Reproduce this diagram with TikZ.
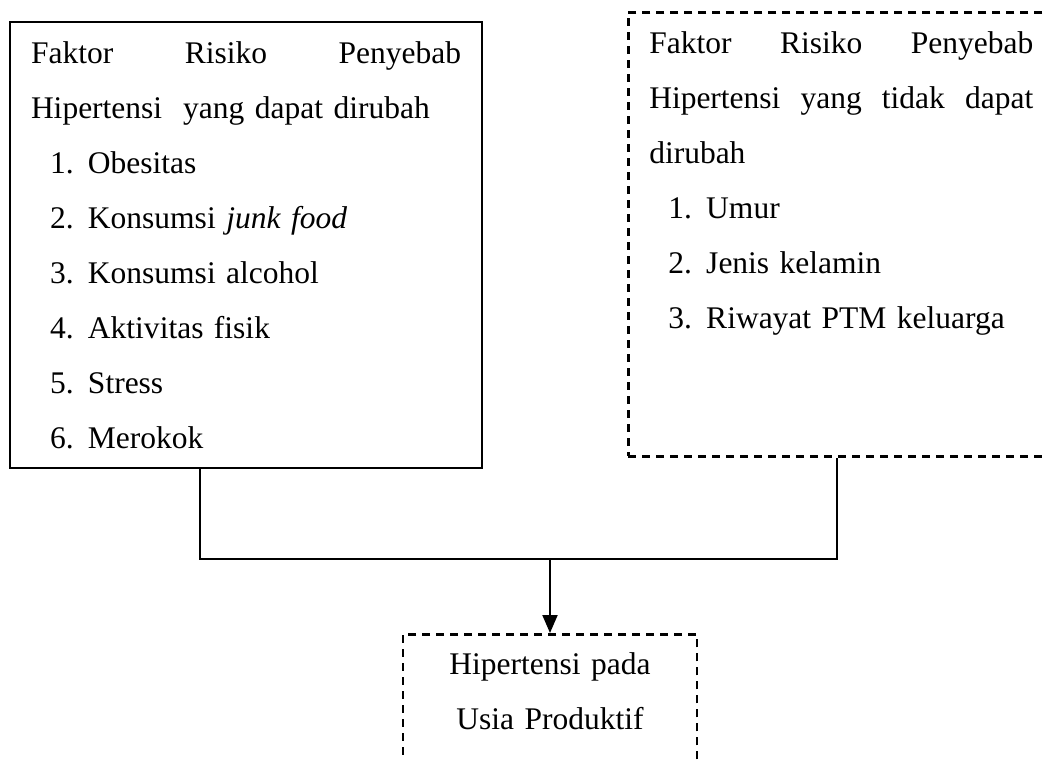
\documentclass[tikz,border=0pt]{standalone}
\usepackage{fontspec}
\setmainfont{Liberation Serif}
\usetikzlibrary{arrows.meta}

\newcommand{\butir}[2]{\hspace*{7.6pt}\makebox[15.2pt][l]{#1.}#2}
\newcommand{\rata}[2]{\leavevmode\hbox to #1{#2}}

\begin{document}
\begin{tikzpicture}[x=0.4pt,y=-0.4pt,
every node/.style={font=\fontsize{12.6}{22}\selectfont, inner ysep=0pt},
solidbox/.style={draw, line width=0.8pt, inner xsep=8.4pt, align=left, anchor=north west},
dashedbox/.style={draw, line width=1pt, dash pattern=on 3.2pt off 2.4pt, inner xsep=8.4pt, align=left, anchor=north west}]
\useasboundingbox (0,0) rectangle (1046,760);
\node[solidbox, text width=172pt] (ubah) at (9,21) {\rule{0pt}{16.4pt}\rata{172pt}{Faktor\hfill Risiko\hfill Penyebab}\\ Hipertensi\ \ yang dapat dirubah\\ \butir{1}{Obesitas}\\ \butir{2}{Konsumsi \textit{junk food}}\\ \butir{3}{Konsumsi alcohol}\\ \butir{4}{Aktivitas fisik}\\ \butir{5}{Stress}\\ \butir{6}{Merokok}\rule[-8pt]{0pt}{8pt}};
\node[dashedbox, text width=153.6pt] (tetap) at (627,11) {\rule{0pt}{16.4pt}\rata{153.6pt}{Faktor\hfill Risiko\hfill Penyebab}\\ \rata{153.6pt}{Hipertensi\hfill yang\hfill tidak\hfill dapat}\\ dirubah\\ \butir{1}{Umur}\\ \butir{2}{Jenis kelamin}\\ \butir{3}{Riwayat PTM keluarga}\rule[-51.2pt]{0pt}{51.2pt}};
\node[dashedbox, anchor=north, inner xsep=0pt, text width=117.6pt, align=center] (hasil) at (550,633) {\rule{0pt}{16pt}Hipertensi pada\\ Usia Produktif\rule[-40pt]{0pt}{40pt}};
% garis penghubung
\coordinate (temu) at (550,559);
\draw[line width=0.8pt] ([xshift=76.4pt]ubah.south west) |- (temu) -| ([xshift=84pt]tetap.south west);
\draw[line width=0.8pt, -{Triangle[length=7.2pt,width=6pt]}] (temu) -- (hasil.north);
\end{tikzpicture}
\end{document}
